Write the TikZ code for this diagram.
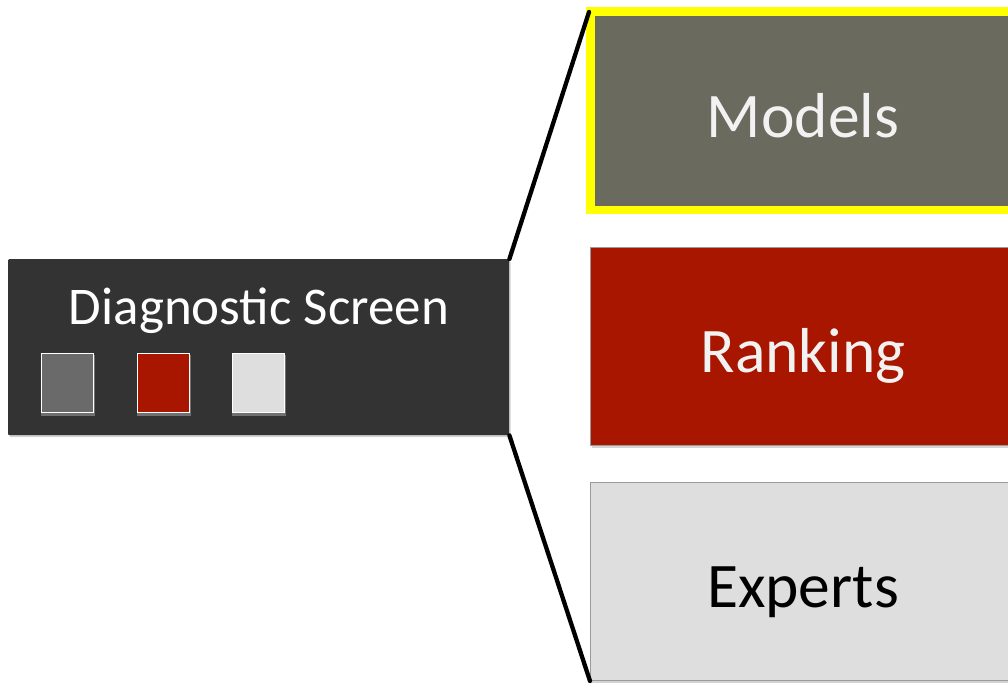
\documentclass[tikz,border=0pt]{standalone}
\usepackage{fontspec}
\setmainfont{Carlito}
\usetikzlibrary{shadows}
\definecolor{darkbg}{HTML}{333333}
\definecolor{modelfill}{HTML}{6B6A5E}
\definecolor{rankfill}{HTML}{A81600}
\definecolor{expfill}{HTML}{DEDEDE}
\definecolor{swgray}{HTML}{6A6A6A}
\definecolor{boxedge}{HTML}{9A9A9A}
\definecolor{hiyellow}{HTML}{FFFF00}
\definecolor{lighttext}{HTML}{F2F2F2}
\tikzset{
  panel/.style={rectangle, inner sep=0pt, anchor=north west,
    drop shadow={opacity=0.35, shadow xshift=1.5pt, shadow yshift=-2pt}},
  swatch/.style={rectangle, draw=white, line width=1.2pt, inner sep=0pt,
    minimum width=52pt, minimum height=59pt, anchor=north west,
    drop shadow={color=white, opacity=0.3, shadow xshift=0pt, shadow yshift=-2.5pt, shadow scale=1.04}},
  link/.style={line width=4.3pt, black, line cap=round},
  bigtext/.style={font=\fontsize{63.5}{72}\selectfont}
}
\begin{document}
\begin{tikzpicture}[x=1pt,y=-1pt]
\useasboundingbox (0,0) rectangle (1008,683);
% left panel
\node[panel, fill=darkbg, minimum width=501pt, minimum height=176pt, rounded corners=1pt] (diag) at (8,259) {};
\node[text=white, font=\fontsize{53}{62}\selectfont, anchor=base] (title) at (259,324) {Diagnostic Screen};
\node[swatch, fill=swgray] (s1) at (41,353) {};
\node[swatch, fill=rankfill] (s2) at (137,353) {};
\node[swatch, fill=expfill] (s3) at (232,353) {};
% right boxes
\node[panel, fill=modelfill, draw=hiyellow, line width=8.5pt, minimum width=440pt, minimum height=198.5pt] (models) at (586,7) {};
\node[panel, fill=rankfill, draw=boxedge, line width=1pt, minimum width=430pt, minimum height=198pt] (ranking) at (590,247) {};
\node[panel, fill=expfill, draw=boxedge, line width=1pt, minimum width=430pt, minimum height=198pt] (experts) at (590,482) {};
\node[bigtext, text=lighttext, anchor=base] (mt) at (803,137) {Models};
\node[bigtext, text=lighttext, anchor=base] (rt) at (803,372) {Ranking};
\node[bigtext, text=black, anchor=base] (et) at (803,607) {Experts};
% connectors
\draw[link] (diag.north east) -- ([xshift=3pt,yshift=-5pt]models.north west);
\draw[link] (diag.south east) -- (experts.south west);
\end{tikzpicture}
\end{document}
